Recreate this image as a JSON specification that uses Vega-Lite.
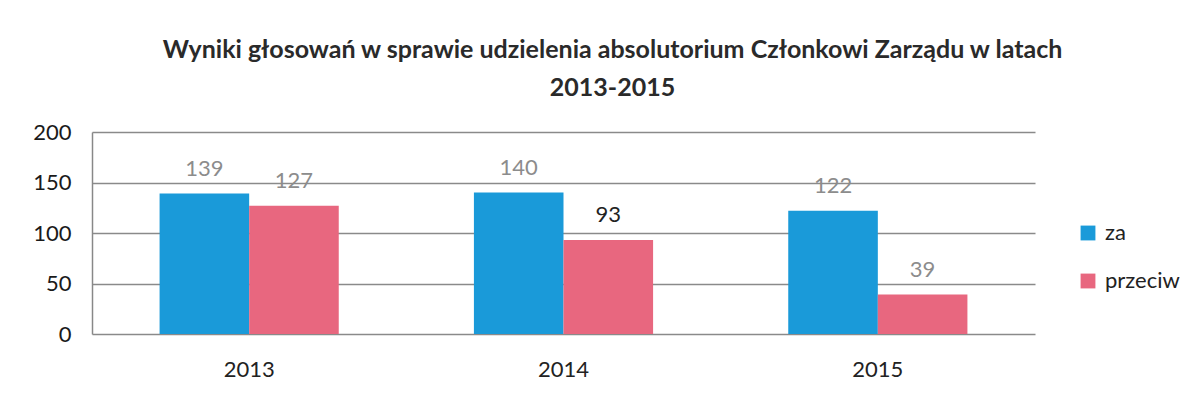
{
  "$schema": "https://vega.github.io/schema/vega-lite/v6.json",
  "width": 943,
  "height": 202,
  "padding": {"left": 32, "top": 38, "right": 10, "bottom": 10},
  "background": "white",
  "title": {
    "text": ["Wyniki głosowań w sprawie udzielenia absolutorium Członkowi Zarządu w latach", "2013-2015"],
    "font": "Lato",
    "fontSize": 25,
    "fontWeight": "bold",
    "color": "#2a2a2a",
    "anchor": "middle",
    "dx": 49,
    "lineHeight": 38,
    "offset": 20
  },
  "data": {
    "values": [
      {"rok": "2013", "seria": "za", "value": 139},
      {"rok": "2013", "seria": "przeciw", "value": 127},
      {"rok": "2014", "seria": "za", "value": 140},
      {"rok": "2014", "seria": "przeciw", "value": 93},
      {"rok": "2015", "seria": "za", "value": 122},
      {"rok": "2015", "seria": "przeciw", "value": 39}
    ]
  },
  "encoding": {
    "x": {
      "field": "rok", "type": "nominal", "title": null,
      "scale": {"paddingInner": 0.43, "paddingOuter": 0.215},
      "axis": {"labelAngle": 0, "labelFont": "Lato", "labelFontSize": 22, "labelColor": "#222", "labelPadding": 25, "ticks": false, "domain": false}
    },
    "xOffset": {"field": "seria", "type": "nominal", "sort": ["za", "przeciw"]},
    "y": {
      "field": "value", "type": "quantitative", "title": null,
      "scale": {"domain": [0, 200]},
      "axis": {"values": [0, 50, 100, 150, 200], "labelFont": "Lato", "labelFontSize": 22, "labelColor": "#1a1a1a", "labelPadding": 21, "ticks": false, "domain": true, "domainColor": "#888", "domainWidth": 1.5, "gridColor": "#8a8a8a", "gridWidth": 1.5}
    }
  },
  "layer": [
    {
      "mark": {"type": "bar"},
      "encoding": {
        "color": {
          "field": "seria", "type": "nominal", "title": null,
          "scale": {"domain": ["za", "przeciw"], "range": ["#1a9ad9", "#e8677f"]},
          "legend": {"orient": "none", "legendX": 985, "legendY": 90, "labelFont": "Lato", "labelFontSize": 22, "labelColor": "#222", "symbolType": "square", "symbolSize": 220, "symbolStrokeWidth": 0, "rowPadding": 26, "labelOffset": 6}
        }
      }
    },
    {
      "mark": {"type": "text", "baseline": "bottom", "dy": -13, "font": "Lato", "fontSize": 22},
      "encoding": {
        "text": {"field": "value", "type": "quantitative"},
        "color": {"condition": {"test": "datum.value == 93", "value": "#222222"}, "value": "#8c8c8c"}
      }
    }
  ],
  "config": {"view": {"stroke": null}}
}
